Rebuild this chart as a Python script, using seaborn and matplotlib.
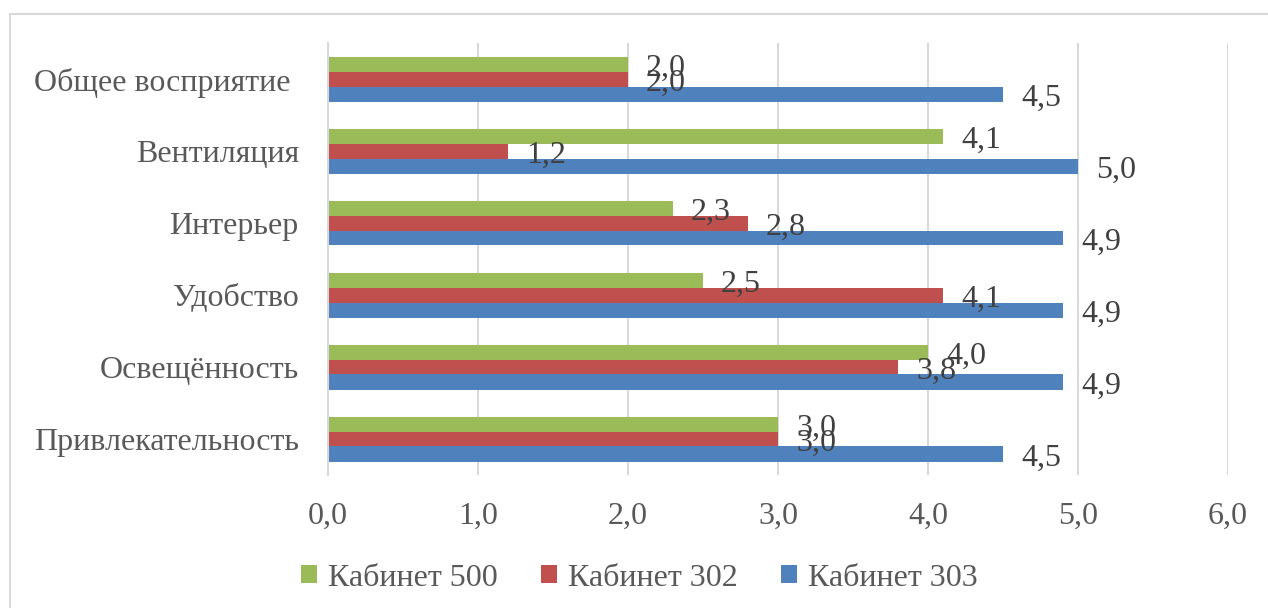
import pandas as pd
import seaborn as sns
import matplotlib.pyplot as plt
from matplotlib.patches import Rectangle

# Survey scores per room
categories = ["Общее восприятие ", "Вентиляция", "Интерьер", "Удобство",
              "Освещённость", "Привлекательность"]
series = ["Кабинет 500", "Кабинет 302", "Кабинет 303"]
cab500 = [2.0, 4.1, 2.3, 2.5, 4.0, 3.0]
cab302 = [2.0, 1.2, 2.8, 4.1, 3.8, 3.0]
cab303 = [4.5, 5.0, 4.9, 4.9, 4.9, 4.5]
colors = ["#9BBB59", "#C0504D", "#4F81BD"]

rows = []
for name, vals in zip(series, [cab500, cab302, cab303]):
    for cat, v in zip(categories, vals):
        rows.append({"Категория": cat, "Кабинет": name, "Оценка": v})
df = pd.DataFrame(rows)

sns.set_style("white")
plt.rcParams['font.family'] = ['Liberation Serif', 'DejaVu Serif']

fig = plt.figure(figsize=(12.68, 6.08), dpi=100)
W, H = 1268, 608
ax = fig.add_axes([328 / W, 1 - 475 / H, 900 / W, 432 / H])

sns.barplot(data=df, y="Категория", x="Оценка", hue="Кабинет",
            order=categories, hue_order=series, palette=colors,
            orient="h", width=0.625, saturation=1, ax=ax, legend=True,
            edgecolor="none", errorbar=None)

for cont in ax.containers:
    labels = [f"{b.get_width():.1f}".replace('.', ',') for b in cont]
    texts = ax.bar_label(cont, labels=labels, padding=13, fontsize=23,
                         color="#404040")
    for t in texts:
        t.xyann = (t.xyann[0], -3)  # Excel sits the labels a bit lower

ax.set_xlim(0, 6)
ax.set_xticks(range(7))
ax.set_xticklabels([f"{t:.1f}".replace('.', ',') for t in range(7)])
ax.set_xlabel("")
ax.set_ylabel("")
ax.grid(axis="x", color="#D9D9D9", linewidth=1.5)
ax.set_axisbelow(True)
for s in ["top", "right", "bottom"]:
    ax.spines[s].set_visible(False)
ax.spines["left"].set_color("#D9D9D9")
ax.spines["left"].set_linewidth(1.5)
ax.tick_params(axis="both", length=0, labelsize=23, labelcolor="#595959")
ax.tick_params(axis="y", pad=21)
ax.tick_params(axis="x", pad=19)

handles, labs = ax.get_legend_handles_labels()
ax.get_legend().remove()
fig.legend(handles, labs, loc="center", bbox_to_anchor=(0.504, 1 - 578 / H),
           ncol=3, frameon=False, fontsize=23, labelcolor="#595959",
           handlelength=0.5, handleheight=0.5, handletextpad=0.35,
           columnspacing=1.35)

fig.patches.append(Rectangle((10 / W, -0.05), 1.0, 1.05 - 14 / H,
                             transform=fig.transFigure, fill=False,
                             edgecolor="#D9D9D9", linewidth=1.5))

fig.savefig("out.png", dpi=100)
